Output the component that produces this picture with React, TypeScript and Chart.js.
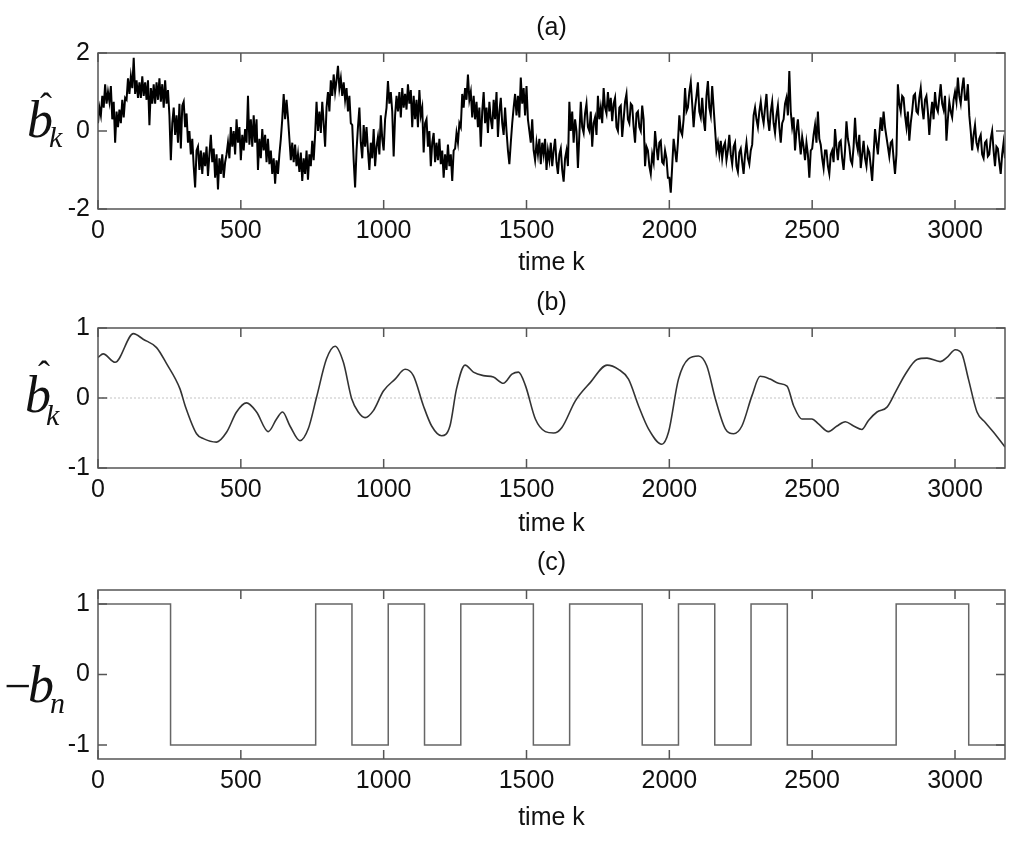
import React, { useEffect, useRef } from "react";
import { Chart, registerables } from "chart.js";

Chart.register(...registerables);

// ---- data ----

const X_MAX = 3175;
const xTicks = [0, 500, 1000, 1500, 2000, 2500, 3000];
const yTicksA = [-2, 0, 2];
const yTicksB = [-1, 0, 1];
const yTicksC = [-1, 0, 1];

// (a) raw estimate, one value every 5 samples of k (one row = 50 samples)
const NOISY_STEP = 5;
const noisyEstimate = [
  0.2, 0.6, 0.4, 0.9, 0.6, 1.2, 0.7, 1.0, 0.75, 1.15,
  0.3, 0.75, -0.3, 0.5, 0.1, 0.55, 0.2, 0.8, 0.35, 0.85,
  0.8, 1.35, 0.95, 1.4, 1.1, 1.88, 0.95, 1.3, 0.85, 1.25,
  0.85, 1.4, 0.9, 1.25, 0.8, 1.3, 0.15, 1.1, 0.7, 1.2,
  0.7, 1.25, 0.8, 1.35, 0.75, 1.2, 0.6, 1.3, 0.7, 1.05,
  0.4, -0.75, 0.2, 0.6, -0.1, 0.4, -0.3, 0.7, -0.45, 0.65,
  0.75, 0.1, 0.45, -0.3, 0.0, -0.6, -0.2, -0.9, -1.45, -0.5,
  -0.4, -1.0, -0.5, -1.1, -0.55, -0.9, -0.4, -1.15, -0.6, -0.1,
  -0.8, -0.45, -1.2, -0.6, -1.5, -0.7, -1.1, -0.6, -1.2, -0.8,
  -0.6, -0.3, -0.7, 0.1, -0.4, 0.0, -0.6, 0.3, -0.3, 0.1,
  -0.75, -0.1, -0.5, 0.05, -0.3, 0.9, -0.35, 0.3, -0.4, 0.4,
  -0.3, 0.3, -1.0, -0.2, -0.7, 0.05, -0.5, -0.1, -0.8, -0.2,
  -0.85, -0.5, -1.1, -0.7, -1.35, -0.75, -1.1, -0.6, -0.2, 0.3,
  0.95, 0.3, 0.8, 0.35, -0.2, -0.75, -0.3, -0.8, -0.35, -0.9,
  -0.6, -1.05, -0.55, -1.28, -0.7, -1.1, -0.5, -1.25, -0.6, -0.9,
  -0.25, -0.75, -0.1, 0.75, 0.0, 0.5, -0.05, 0.75, 0.2, -0.4,
  0.6, 1.0, 0.5, 1.3, 0.9, 1.45, 1.0, 1.3, 1.67, 1.1,
  1.35, 0.9, 1.25, 0.8, 1.1, 0.5, 0.9, 0.2, 0.15, -0.75,
  -1.45, -0.5, 0.1, 0.6, -0.3, -0.7, 0.15, -0.4, 0.1, -0.5,
  -1.0, -0.3, -0.7, 0.05, -0.9, -0.4, -0.15, -0.6, 0.4, -0.2,
  -0.5, 0.3, 0.6, 1.28, 0.7, 1.0, 0.5, -0.65, 0.4, 0.9,
  0.5, 1.0, 0.35, 1.1, 0.6, 0.95, 0.55, 1.2, 0.7, 1.05,
  0.1, 0.9, 0.3, 0.8, 0.1, 1.05, 0.4, 0.6, -0.55, 0.2,
  0.3, -0.4, 0.0, -0.9, -0.3, -0.05, -0.8, -0.3, -0.75, -0.2,
  -0.85, -0.5, -1.2, -0.6, -1.0, -0.35, -0.9, -0.6, -1.28, -0.5,
  -0.45, -0.05, -0.3, 0.2, 0.1, 0.95, 0.6, 1.1, 0.8, 1.45,
  0.8, 1.0, 0.35, 0.9, 0.3, 0.75, 0.1, 0.6, -0.4, 0.5,
  1.0, 0.2, 0.6, -0.05, 0.75, 0.3, 0.05, 0.8, 0.3, 1.0,
  -0.15, 0.5, 0.85, 0.2, -0.1, 0.6, 0.0, -0.5, -0.85, -0.3,
  0.2, 0.6, 0.95, 0.4, 0.9, 0.35, 1.37, 0.7, 1.1, 0.4,
  1.15, 0.3, 0.0, -0.3, 0.3, -0.5, -0.75, -0.3, -0.6, -0.2,
  -0.85, -0.3, -0.6, -0.2, -1.0, -0.5, -0.75, -0.3, -0.9, -0.5,
  -0.2, -0.8, -1.1, -0.6, -0.45, -1.0, -1.3, -0.7, -0.5, -0.9,
  0.75, 0.0, 0.5, -0.3, 0.3, 0.0, -0.95, -0.1, 0.75, 0.1,
  -0.05, 0.45, 0.7, 0.1, 0.0, 0.5, -0.4, 0.2, 0.35, -0.1,
  0.9, 0.3, 0.6, 0.2, 1.1, 0.6, 0.45, 1.0, 0.5, 0.85,
  0.25, 0.7, 0.85, 0.1, 0.0, 0.6, 0.65, -0.15, 0.3, 0.75,
  0.95, 0.3, 0.2, 0.7, 0.65, 0.1, -0.3, 0.45, 0.5, 0.1,
  0.0, 0.65, 0.3, -0.9, -0.4, -0.5, -0.9, -1.1, -0.6, -0.8,
  0.0, -0.4, -0.75, -0.3, -0.25, -0.8, -0.85, -0.5, -0.7, -1.2,
  -1.2, -1.58, -0.9, -0.2, -0.5, -0.8, -0.3, 0.4, 0.0, -0.1,
  0.3, 1.1, 0.5, 0.6, 1.0, 1.25, 0.7, 0.1, 0.6, 0.9,
  1.25, 0.5, 0.35, 0.85, 0.3, 0.0, 0.9, 1.28, 0.6, 0.4,
  1.15, 0.6, 0.05, -0.5, -0.3, -0.6, -0.25, -0.7, -0.4, -0.3,
  -0.75, -0.5, -0.1, -0.6, -0.85, -0.4, -0.3, -0.9, -1.05, -0.55,
  -0.45, -0.8, -1.1, -0.6, -0.3, -0.7, -0.85, -0.5, -0.35, 0.4,
  0.6, 0.3, 0.1, 0.5, 0.75, 0.4, 0.2, 0.6, 0.95, 0.3,
  0.0, 0.5, 0.75, 0.2, -0.05, 0.4, 0.65, 0.1, -0.3, 0.2,
  0.3, 0.7, 0.85, 0.4, 1.54, 0.5, 0.1, 0.35, -0.5, 0.0,
  0.3, -0.2, -0.6, -0.15, -0.4, -0.75, -0.3, -0.6, -1.2, -0.5,
  -0.45, -0.1, 0.15, -0.3, 0.5, -0.2, -0.35, -0.7, -0.95, -0.5,
  -0.5, -0.9, -1.1, -0.6, -0.5, -0.8, 0.05, -0.4, -0.75, -0.3,
  -0.25, -0.7, -1.0, -0.5, 0.25, -0.2, -0.4, -0.75, -0.85, -0.4,
  0.34, -0.3, -0.5, -0.1, -0.95, -0.6, -0.25, -0.7, -0.9, -0.45,
  -0.55, -0.9, -1.28, -0.6, 0.05, -0.3, -0.6, -0.1, 0.35, 0.0,
  0.5, 0.1, -0.15, -0.4, -0.65, -0.3, -0.25, -0.7, -1.1, -0.6,
  1.2, 0.7, 0.5, 0.9, 0.85, 0.4, 0.1, 0.5, -0.25, 0.2,
  0.5, 0.9, 0.95, 0.5, 0.45, 0.85, 1.1, 0.6, 0.3, 0.8,
  0.9, 0.5, -0.1, 0.4, 0.75, 0.3, 1.0, 0.6, 0.5, 0.85,
  1.2, 0.7, 0.55, 0.9, -0.25, 0.3, 0.75, 0.5, 0.35, 0.8,
  1.0, 0.75, 1.37, 0.9, 0.7, 1.1, 1.37, 0.8, 0.8, 1.2,
  0.4, 0.0, -0.5, -0.1, 0.15, -0.3, -0.45, -0.2, -0.1, -0.6,
  -0.7, -0.3, -0.25, -0.65, -0.6, -0.2, 0.0, -0.5, -0.9, -0.4,
  -0.45, -0.8, -1.1, -0.6, -0.3, -0.7,
];

// (b) smoothed estimate
const smoothK = [
  0, 18, 60, 124, 158, 205, 240, 287, 305, 345, 369, 415, 450, 485, 520,
  555, 596, 625, 646, 672, 707, 736, 765, 800, 830, 859, 888, 911, 935,
  964, 999, 1040, 1075, 1104, 1139, 1168, 1203, 1232, 1255, 1285, 1314,
  1349, 1384, 1419, 1449, 1472, 1496, 1531, 1566, 1595, 1624, 1671, 1723,
  1782, 1822, 1857, 1892, 1927, 1974, 1997, 2032, 2067, 2102, 2131, 2161,
  2196, 2225, 2254, 2289, 2318, 2353, 2382, 2412, 2435, 2464, 2499, 2522,
  2557, 2587, 2616, 2645, 2674, 2697, 2727, 2762, 2791, 2826, 2867, 2902,
  2948, 2972, 3001, 3024, 3047, 3077, 3106, 3135, 3175,
];
const smoothEstimate = [
  0.58, 0.63, 0.51, 0.92, 0.84, 0.72, 0.49, 0.13, -0.11, -0.51, -0.58,
  -0.63, -0.49, -0.2, -0.07, -0.2, -0.48, -0.3, -0.2, -0.4, -0.61, -0.44,
  0.01, 0.56, 0.74, 0.51, -0.01, -0.2, -0.28, -0.18, 0.1, 0.27, 0.41, 0.32,
  -0.11, -0.4, -0.54, -0.4, 0.13, 0.47, 0.37, 0.32, 0.3, 0.21, 0.34, 0.37,
  0.18, -0.3, -0.48, -0.5, -0.42, -0.04, 0.22, 0.47, 0.41, 0.27, -0.11,
  -0.44, -0.66, -0.49, 0.27, 0.56, 0.6, 0.46, -0.01, -0.44, -0.51, -0.4,
  0.03, 0.31, 0.27, 0.21, 0.17, -0.11, -0.3, -0.3, -0.37, -0.48, -0.4,
  -0.34, -0.4, -0.45, -0.32, -0.2, -0.13, 0.08, 0.34, 0.55, 0.57, 0.52,
  0.58, 0.69, 0.63, 0.27, -0.2, -0.35, -0.49, -0.7,
];

// (c) symbol sequence -b_n, each symbol lasts 127 samples
const SYMBOL_LEN = 127;
const symbols = [
  1, 1, -1, -1, -1, -1, 1, -1, 1, -1, 1, 1, -1, 1, 1, -1, 1, -1, 1, -1, -1, -1,
  1, 1, -1,
];

// ---- styling ----

const SANS = "'Liberation Sans', Arial, sans-serif";
const SERIF = "'Liberation Serif', 'Times New Roman', serif";
const INK = "#111";
const FRAME = "#555";
const TICK_LEN = 9;

const framePlugin = {
  id: "frame",
  beforeDatasetsDraw(chart: any, _args: any, o: any) {
    if (!o.zeroLine) return;
    const { ctx, chartArea: a } = chart;
    const y = chart.scales.y.getPixelForValue(0);
    ctx.save();
    ctx.strokeStyle = "#c4c4c4";
    ctx.lineWidth = 1;
    ctx.setLineDash([2, 2]);
    ctx.beginPath();
    ctx.moveTo(a.left, y);
    ctx.lineTo(a.right, y);
    ctx.stroke();
    ctx.restore();
  },
  afterDatasetsDraw(chart: any, _args: any, o: any) {
    const { ctx, chartArea: a } = chart;
    const xs = chart.scales.x;
    const ys = chart.scales.y;
    ctx.save();
    ctx.strokeStyle = FRAME;
    ctx.lineWidth = 1.5;
    ctx.beginPath();
    xs.ticks.forEach((t: any) => {
      const px = xs.getPixelForValue(t.value);
      ctx.moveTo(px, a.bottom);
      ctx.lineTo(px, a.bottom - TICK_LEN);
      ctx.moveTo(px, a.top);
      ctx.lineTo(px, a.top + TICK_LEN);
    });
    ys.ticks.forEach((t: any) => {
      const py = ys.getPixelForValue(t.value);
      ctx.moveTo(a.left, py);
      ctx.lineTo(a.left + TICK_LEN, py);
      ctx.moveTo(a.right, py);
      ctx.lineTo(a.right - TICK_LEN, py);
    });
    ctx.stroke();
    ctx.strokeRect(a.left, a.top, a.right - a.left, a.bottom - a.top);

    // title and x label
    const cx = (a.left + a.right) / 2;
    ctx.fillStyle = INK;
    ctx.font = `25px ${SANS}`;
    ctx.textAlign = "center";
    ctx.textBaseline = "middle";
    ctx.fillText(o.title, cx, o.titleY);
    ctx.fillText("time k", cx, o.xLabelY);

    // y label: b with hat / minus and a subscript
    const L = o.label;
    ctx.textAlign = "left";
    ctx.textBaseline = "alphabetic";
    if (L.minusX !== undefined) {
      ctx.font = `48px ${SERIF}`;
      ctx.fillText("\u2212", L.minusX, L.baseline);
    }
    ctx.font = `italic 52px ${SERIF}`;
    ctx.fillText("b", L.bX, L.baseline);
    if (L.hatX !== undefined) {
      ctx.font = `36px ${SERIF}`;
      ctx.textAlign = "center";
      ctx.fillText("\u02c6", L.hatX, L.hatBaseline);
      ctx.textAlign = "left";
    }
    ctx.font = `italic 30px ${SERIF}`;
    ctx.fillText(L.sub, L.subX, L.subBaseline);
    ctx.restore();
  },
};

function makeOptions(
  yMin: number,
  yMax: number,
  yTicks: number[],
  padTop: number,
  xAxisHeight: number,
  frame: any
) {
  const tickFont = { family: SANS, size: 25 };
  return {
    animation: false as const,
    responsive: true,
    maintainAspectRatio: false,
    layout: { padding: { top: padTop, right: 19, bottom: 0, left: 0 } },
    plugins: {
      legend: { display: false },
      tooltip: { enabled: false },
      frame,
    },
    scales: {
      x: {
        type: "linear" as const,
        min: 0,
        max: X_MAX,
        grid: { display: false, drawTicks: false },
        border: { display: false },
        afterBuildTicks: (s: any) => {
          s.ticks = xTicks.map((v) => ({ value: v }));
        },
        ticks: {
          autoSkip: false,
          maxRotation: 0,
          padding: 7,
          color: INK,
          font: tickFont,
          callback: (v: any) => String(v),
        },
        afterFit: (s: any) => {
          s.height = xAxisHeight;
        },
      },
      y: {
        type: "linear" as const,
        min: yMin,
        max: yMax,
        grid: { display: false, drawTicks: false },
        border: { display: false },
        afterBuildTicks: (s: any) => {
          s.ticks = yTicks.map((v) => ({ value: v }));
        },
        ticks: {
          autoSkip: false,
          padding: 8,
          color: INK,
          font: tickFont,
          callback: (v: any) => String(v),
        },
        afterFit: (s: any) => {
          s.width = 98;
        },
      },
    },
  };
}

const PANEL_TOPS = [0, 280, 550];
const PANEL_HEIGHTS = [280, 270, 292];

const App: React.FC = () => {
  const refA = useRef<HTMLCanvasElement | null>(null);
  const refB = useRef<HTMLCanvasElement | null>(null);
  const refC = useRef<HTMLCanvasElement | null>(null);

  useEffect(() => {
    const charts: Chart[] = [];

    if (refA.current) {
      charts.push(
        new Chart(refA.current, {
          type: "line",
          data: {
            datasets: [
              {
                data: noisyEstimate.map((v, i) => ({ x: i * NOISY_STEP, y: v })),
                borderColor: "#000",
                borderWidth: 2,
                pointRadius: 0,
                tension: 0,
              },
            ],
          },
          options: makeOptions(-2, 2, yTicksA, 53, 280 - 209, {
            title: "(a)",
            titleY: 28,
            xLabelY: 263,
            label: {
              bX: 27,
              baseline: 137,
              hatX: 46,
              hatBaseline: 118,
              sub: "k",
              subX: 49,
              subBaseline: 147,
            },
          }) as any,
          plugins: [framePlugin as any],
        })
      );
    }

    if (refB.current) {
      charts.push(
        new Chart(refB.current, {
          type: "line",
          data: {
            datasets: [
              {
                data: smoothK.map((k, i) => ({ x: k, y: smoothEstimate[i] })),
                borderColor: "#333",
                borderWidth: 1.6,
                pointRadius: 0,
                cubicInterpolationMode: "monotone",
              },
            ],
          },
          options: makeOptions(-1, 1, yTicksB, 48, 270 - 188, {
            title: "(b)",
            titleY: 23,
            xLabelY: 244,
            zeroLine: true,
            label: {
              bX: 25,
              baseline: 132,
              hatX: 44,
              hatBaseline: 106,
              sub: "k",
              subX: 46,
              subBaseline: 145,
            },
          }) as any,
          plugins: [framePlugin as any],
        })
      );
    }

    if (refC.current) {
      const steps = symbols.map((s, n) => ({ x: n * SYMBOL_LEN, y: s }));
      steps.push({ x: symbols.length * SYMBOL_LEN, y: symbols[symbols.length - 1] });
      charts.push(
        new Chart(refC.current, {
          type: "line",
          data: {
            datasets: [
              {
                data: steps,
                borderColor: "#666",
                borderWidth: 1.5,
                pointRadius: 0,
                stepped: true,
              },
            ],
          },
          options: makeOptions(-1.2, 1.2, yTicksC, 40, 292 - 209, {
            title: "(c)",
            titleY: 13,
            xLabelY: 268,
            label: {
              minusX: 4,
              bX: 28,
              baseline: 152,
              sub: "n",
              subX: 50,
              subBaseline: 163,
            },
          }) as any,
          plugins: [framePlugin as any],
        })
      );
    }

    return () => {
      charts.forEach((c) => c.destroy());
    };
  }, []);

  const refs = [refA, refB, refC];

  return (
    <div
      style={{
        position: "absolute",
        left: 0,
        top: 0,
        width: 1024,
        height: 842,
        background: "#fff",
      }}
    >
      {refs.map((r, i) => (
        <div
          key={i}
          style={{
            position: "absolute",
            left: 0,
            top: PANEL_TOPS[i],
            width: 1024,
            height: PANEL_HEIGHTS[i],
          }}
        >
          <canvas ref={r}></canvas>
        </div>
      ))}
    </div>
  );
};

export default App;
